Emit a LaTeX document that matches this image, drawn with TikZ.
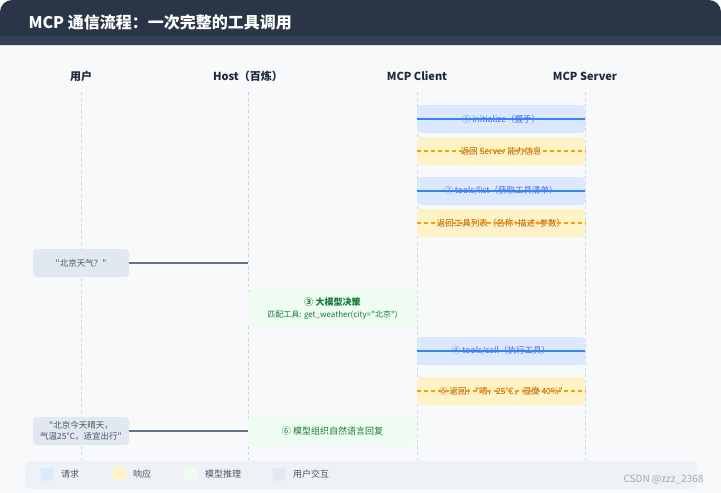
\documentclass[tikz,border=0pt]{standalone}
\usepackage{fontspec}
\setmainfont{Noto Sans CJK SC}[Ligatures=TeXOff]
\usetikzlibrary{positioning}

\definecolor{headbg}{HTML}{2A3547}
\definecolor{headstrip}{HTML}{354155}
\definecolor{bodybg}{HTML}{F8F9FB}
\definecolor{lifegray}{HTML}{CBD5E1}
\definecolor{reqfill}{HTML}{DBE8FE}
\definecolor{reqline}{HTML}{3B82F6}
\definecolor{reqtext}{HTML}{4169D8}
\definecolor{respfill}{HTML}{FEF3C7}
\definecolor{respline}{HTML}{F5A00B}
\definecolor{resptext}{HTML}{B45309}
\definecolor{llmfill}{HTML}{EEFCF2}
\definecolor{llmtext}{HTML}{177A3C}
\definecolor{userfill}{HTML}{E2E8F0}
\definecolor{usertext}{HTML}{475569}
\definecolor{userline}{HTML}{64748B}
\definecolor{legendbg}{HTML}{EEF2F6}
\definecolor{roletext}{HTML}{1E293B}

\begin{document}
\begin{tikzpicture}[x=1pt, y=-1pt,
    role/.style={font=\bfseries\fontsize{11}{13}\selectfont, text=roletext},
    life/.style={lifegray, line width=1pt, dash pattern=on 3pt off 3pt},
    msgbox/.style={minimum width=168pt, minimum height=28pt, rounded corners=4pt, inner sep=0pt, font=\fontsize{8.5}{10}\selectfont},
    req/.style={msgbox, fill=reqfill, text=reqtext},
    resp/.style={msgbox, fill=respfill, text=resptext},
    llm/.style={msgbox, fill=llmfill, text=llmtext, minimum width=169pt},
    user/.style={minimum width=96pt, minimum height=28pt, rounded corners=4pt, inner sep=0pt, fill=userfill, text=usertext, align=center, font=\fontsize{8.5}{11}\selectfont},
    reqarrow/.style={reqline, line width=1.2pt},
    resparrow/.style={respline, line width=1.2pt, dash pattern=on 4pt off 3pt},
    userarrow/.style={userline, line width=1.2pt},
    swatch/.style={minimum size=13pt, inner sep=0pt, rounded corners=2pt},
    legtext/.style={font=\fontsize{9}{10}\selectfont, text=usertext}]
    \useasboundingbox (0,0) rectangle (721,493);

    % 背景与标题栏
    \fill[white] (0,0) rectangle (721,493);
    \fill[bodybg] (0,45) rectangle (721,493);
    \fill[headbg] (0,45) [rounded corners=12pt] -- (0,0) -- (721,0) [sharp corners] -- (721,45) -- cycle;
    \fill[headstrip] (0,36) rectangle (721,45);
    \node[anchor=west, text=white, font=\bfseries\fontsize{16}{18}\selectfont] (title) at (25,22) {MCP 通信流程：一次完整的工具调用};

    % 参与者
    \node[role] (user) at (81,76) {用户};
    \node[role] (host) at (248,76) {Host（百炼）};
    \node[role] (client) at (417,76) {MCP Client};
    \node[role] (server) at (585,76) {MCP Server};

    % 生命线
    \foreach \p/\x in {user/81, host/248, client/417, server/585} {
        \coordinate (\p top) at (\x,92);
        \coordinate (\p bot) at (\x,460);
        \draw[life] (\p top) -- (\p bot);
    }

    % 握手与工具列表
    \node[req] (init) at (501,119) {① initialize（握手）};
    \draw[reqarrow] (init.west) -- (init.east);
    \node[resp] (caps) at (501,151) {返回 Server 能力信息};
    \draw[resparrow] (caps.west) -- (caps.east);
    \node[req] (list) at (501,191) {② tools/list（获取工具清单）};
    \draw[reqarrow] (list.west) -- (list.east);
    \node[resp] (tools) at (501,223) {返回工具列表（名称+描述+参数）};
    \draw[resparrow] (tools.west) -- (tools.east);

    % 用户提问
    \node[user] (ask) at (81,263) {"北京天气？"};
    \draw[userarrow] (ask) -- (ask -| hosttop);

    % 大模型决策
    \node[llm, minimum height=39pt, align=center] (decide) at (332.5,308.5)
        {{\bfseries\fontsize{9}{11}\selectfont ③ 大模型决策}\\[2pt]{\fontsize{8}{10}\selectfont 匹配工具: get\_weather(city="北京")}};

    % 调用工具
    \node[req] (call) at (501,351) {④ tools/call（执行工具）};
    \draw[reqarrow] (call.west) -- (call.east);
    \node[resp] (result) at (501,391) {⑤ 返回："晴，25°C，湿度 40\%"};
    \draw[resparrow] (result.west) -- (result.east);

    % 回复用户
    \node[user] (answer) at (81,431) {"北京今天晴天，\\气温25°C，适宜出行"};
    \node[llm, font=\fontsize{9}{10}\selectfont] (reply) at (332.5,431) {⑥ 模型组织自然语言回复};
    \draw[userarrow] (answer) -- (reply);

    % 图例
    \fill[legendbg, rounded corners=5pt] (25,461) rectangle (697,489);
    \node[swatch, fill=reqfill] (sreq) at (47,474) {};
    \node[legtext, right=4pt of sreq] (lreq) {请求};
    \node[swatch, fill=respfill] (sresp) at (119,474) {};
    \node[legtext, right=4pt of sresp] (lresp) {响应};
    \node[swatch, fill=llmfill] (sllm) at (191,474) {};
    \node[legtext, right=4pt of sllm] (lllm) {模型推理};
    \node[swatch, fill=userfill] (suser) at (279,474) {};
    \node[legtext, right=4pt of suser] (luser) {用户交互};

    % 水印
    \node[anchor=east, text=black!35, font=\fontsize{10}{12}\selectfont] (mark) at (707,480) {CSDN @zzz\_2368};
\end{tikzpicture}
\end{document}
